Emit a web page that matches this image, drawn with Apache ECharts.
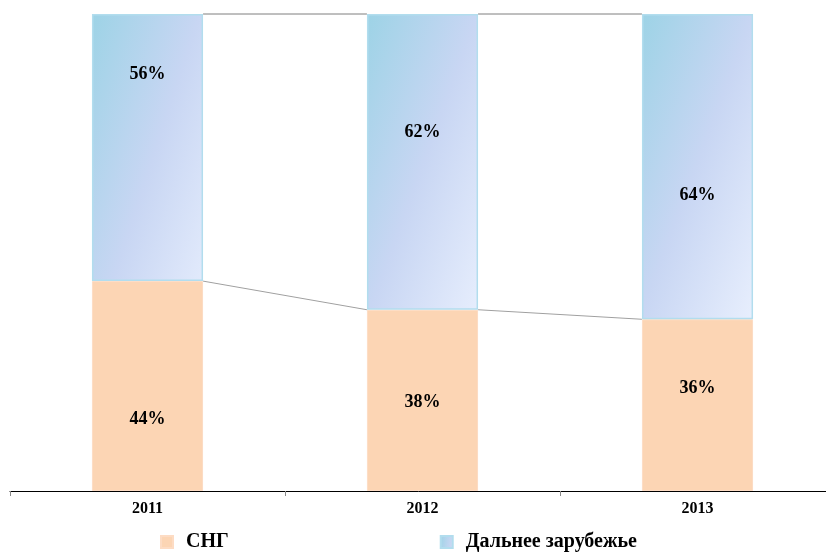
<!DOCTYPE html>
<html><head><meta charset="utf-8">
<script src="https://cdn.jsdelivr.net/npm/echarts@6/dist/echarts.min.js"></script>
<style>html,body{margin:0;padding:0;background:#fff}#c{width:826px;height:554px}</style>
</head><body><div id="c"></div>
<script>
var categories = ['2011', '2012', '2013'];
var sngValues = [44, 38, 36];
var farValues = [56, 62, 64];
var seriesNames = ['СНГ', 'Дальнее зарубежье'];
// label vertical offsets (style only)
var sngLabelOffsets = [33, 2, -17];
var farLabelOffsets = [-73, -30, 29];

var BAR_RATIO = 0.404;
var font = '"Liberation Serif", "Times New Roman", serif';

var chart = echarts.init(document.getElementById('c'), null, {renderer: 'canvas'});

function mkItems(vals, offs) {
  return vals.map(function (v, i) {
    return {value: v, label: {offset: [0, offs[i]]}};
  });
}

// connector data: [startIndex, startValue, endValue]
var connTop = [], connSng = [];
for (var i = 0; i < categories.length - 1; i++) {
  connTop.push([i, sngValues[i] + farValues[i], sngValues[i + 1] + farValues[i + 1]]);
  connSng.push([i, sngValues[i], sngValues[i + 1]]);
}

function connRender(color) {
  return function (params, api) {
    var i = api.value(0);
    var p1 = api.coord([i, api.value(1)]);
    var p2 = api.coord([i + 1, api.value(2)]);
    var bw = api.size([1, 0])[0] * BAR_RATIO;
    return {
      type: 'line',
      shape: {x1: p1[0] + bw / 2, y1: p1[1], x2: p2[0] - bw / 2, y2: p2[1]},
      style: {stroke: color, lineWidth: 1}
    };
  };
}

// diagonal gradient in shape-normalised space (isolines run corner to corner)
var farGradient = new echarts.graphic.LinearGradient(0, 0, 1.76, 0.24, [
  {offset: 0, color: '#9dd3e6'},
  {offset: 0.5, color: '#c8d6f3'},
  {offset: 1, color: '#e7eefd'}
]);

chart.setOption({
  animation: false,
  grid: {left: 10, width: 825, top: 14, bottom: 63, outerBoundsMode: 'none', containLabel: false},
  legend: {
    left: 155, top: 527,
    itemWidth: 12, itemHeight: 12, itemGap: 211,
    icon: 'rect',
    textStyle: {fontFamily: font, fontWeight: 'bold', fontSize: 20, color: '#000', padding: [0, 0, 0, 8]},
    data: seriesNames
  },
  xAxis: {
    type: 'category',
    data: categories,
    axisLine: {lineStyle: {color: '#000', width: 1}},
    axisTick: {show: true, length: 5, lineStyle: {color: '#888'}},
    axisLabel: {fontFamily: font, fontWeight: 'bold', fontSize: 16, color: '#000', margin: 10}
  },
  yAxis: {type: 'value', min: 0, max: 100, show: false, splitLine: {show: false}},
  series: [
    {
      name: seriesNames[0], type: 'bar', stack: 's', barWidth: (BAR_RATIO * 100) + '%',
      data: mkItems(sngValues, sngLabelOffsets),
      itemStyle: {color: '#fcd5b4', borderColor: '#fddcc4', borderWidth: 1},
      label: {show: true, position: 'inside', formatter: '{c}%', fontFamily: font, fontWeight: 'bold', fontSize: 18, color: '#000'}
    },
    {
      name: seriesNames[1], type: 'bar', stack: 's', barWidth: (BAR_RATIO * 100) + '%',
      data: mkItems(farValues, farLabelOffsets),
      itemStyle: {color: farGradient, borderColor: '#b2ddee', borderWidth: 1.5},
      label: {show: true, position: 'inside', formatter: '{c}%', fontFamily: font, fontWeight: 'bold', fontSize: 18, color: '#000'}
    },
    {
      type: 'custom', renderItem: connRender('#7f7f7f'), data: connTop, silent: true, z: 1,
      encode: {x: 0, y: [1, 2]}
    },
    {
      type: 'custom', renderItem: connRender('#a0a0a0'), data: connSng, silent: true, z: 1,
      encode: {x: 0, y: [1, 2]}
    }
  ]
});
</script>
</body></html>
